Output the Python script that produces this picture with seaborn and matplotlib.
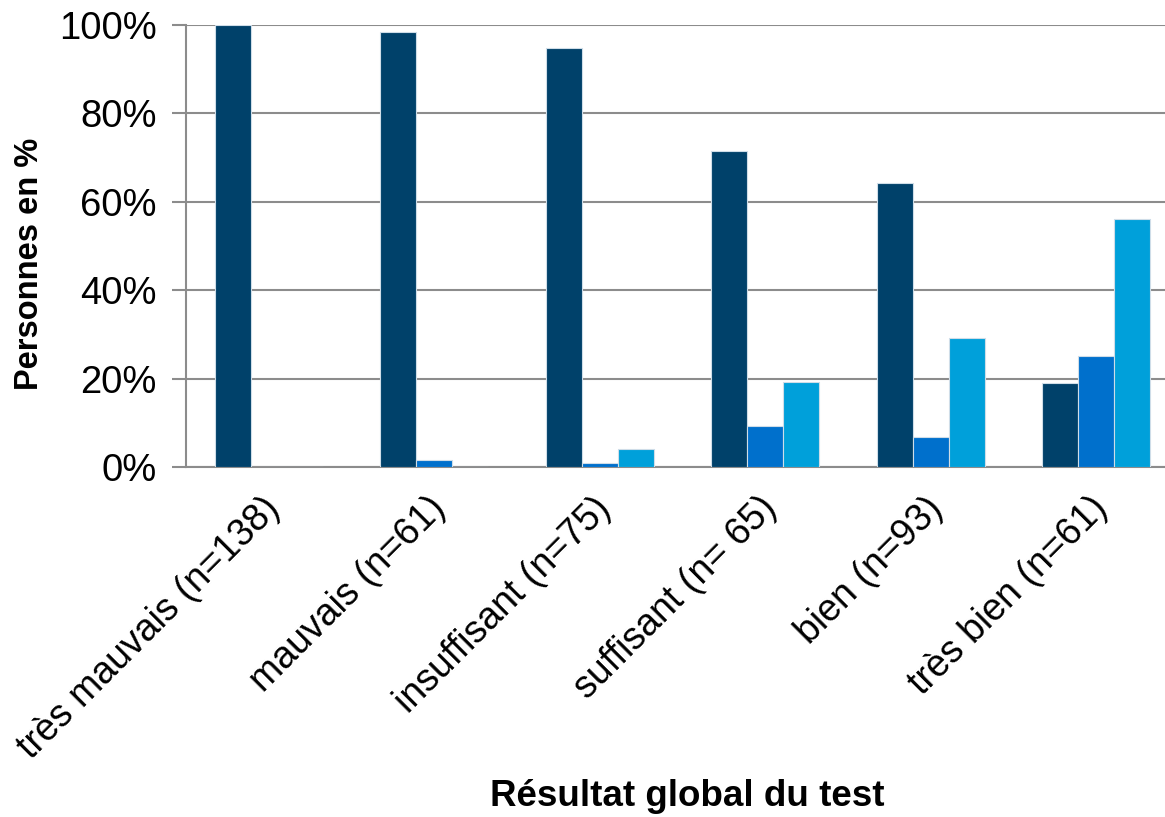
import matplotlib
import matplotlib.pyplot as plt
import matplotlib.transforms as mtransforms
import seaborn as sns
import pandas as pd
from matplotlib.ticker import FuncFormatter

matplotlib.use("Agg")

# --- Data ---
categories = ["très mauvais (n=138)", "mauvais (n=61)", "insuffisant (n=75)",
              "suffisant (n= 65)", "bien (n=93)", "très bien (n=61)"]
series_names = ["Série 1", "Série 2", "Série 3"]
serie_1 = [100.0, 98.4, 94.8, 71.6, 64.2, 19.1]
serie_2 = [0.0, 1.6, 1.0, 9.3, 6.7, 25.0]
serie_3 = [0.0, 0.0, 4.1, 19.2, 29.2, 56.1]
colors = ["#00416A", "#0070CC", "#00A0DA"]

records = []
for name, vals in zip(series_names, [serie_1, serie_2, serie_3]):
    for cat, v in zip(categories, vals):
        records.append({"Catégorie": cat, "Série": name, "Valeur": v})
df = pd.DataFrame(records)

sns.set_theme(style="white")
plt.rcParams["font.family"] = ["Liberation Sans", "DejaVu Sans"]

fig = plt.figure(figsize=(11.65, 8.17), dpi=100)
ax = fig.add_axes([0.1597, 0.4284, 0.8524, 0.541])

sns.barplot(data=df, x="Catégorie", y="Valeur", hue="Série", order=categories,
            hue_order=series_names, palette=colors, width=0.652, saturation=1,
            edgecolor="#cfdde8", linewidth=0.8, legend=False, ax=ax, zorder=3)

ax.set_ylim(0, 100)
ax.set_yticks([0, 20, 40, 60, 80, 100])
ax.yaxis.set_major_formatter(FuncFormatter(lambda v, p: f"{int(v)}%"))
ax.set_xlim(-0.5, len(categories) - 0.5)

ax.grid(axis="y", color="#8c8c8c", linewidth=1.5, zorder=0)
ax.set_axisbelow(True)
for side in ["top", "right"]:
    ax.spines[side].set_visible(False)
for side in ["left", "bottom"]:
    ax.spines[side].set_color("#8c8c8c")
    ax.spines[side].set_linewidth(1.5)

ax.tick_params(axis="y", left=True, length=10, width=1.5, color="#8c8c8c",
               labelsize=27.5, pad=11, labelcolor="black")
ax.tick_params(axis="x", bottom=False, labelsize=27, pad=14, labelcolor="black")
shift = mtransforms.ScaledTranslation(6 / 100, -8 / 100, fig.dpi_scale_trans)
for lab in ax.get_xticklabels():
    lab.set_rotation(45)
    lab.set_ha("right")
    lab.set_va("center")
    lab.set_rotation_mode("anchor")
    lab.set_transform(lab.get_transform() + shift)

ax.set_ylabel("Personnes en %", fontsize=23.5, fontweight="bold", color="black")
ax.yaxis.set_label_coords(-0.142, 0.46)
ax.set_xlabel("Résultat global du test", fontsize=26.5, fontweight="bold", color="black")
ax.xaxis.set_label_coords(0.505, -0.705)

fig.savefig("out.png", dpi=100)
